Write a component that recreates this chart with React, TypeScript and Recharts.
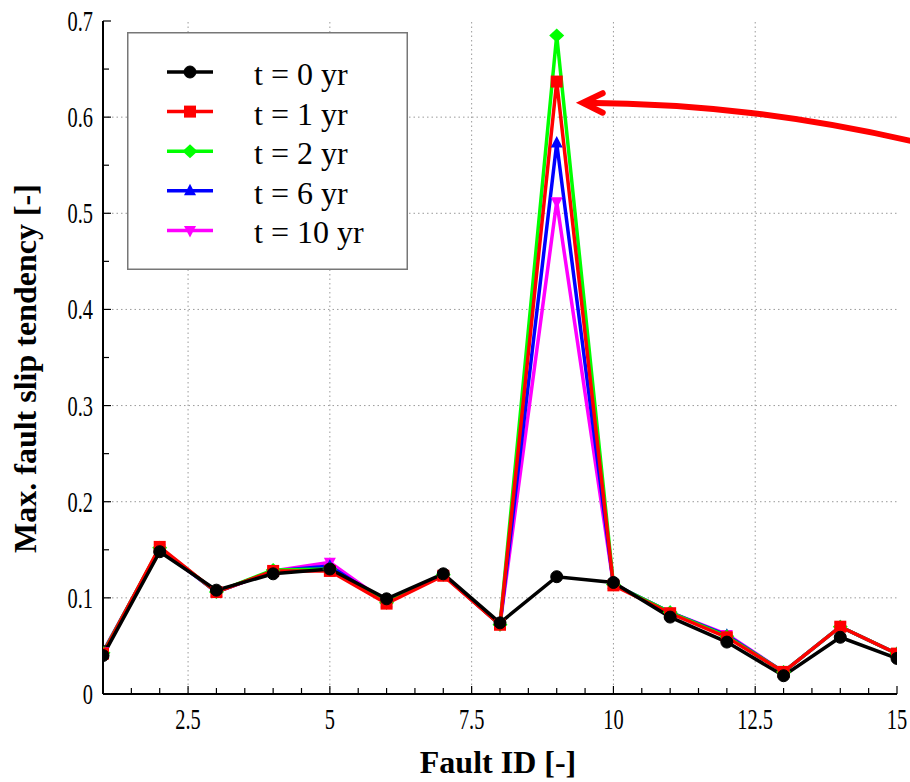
import React from 'react';
import { LineChart, Line, XAxis, YAxis, ReferenceLine, ReferenceDot, Legend, Label } from 'recharts';

// ---------- data ----------
const faultIds = [1, 2, 3, 4, 5, 6, 7, 8, 9, 10, 11, 12, 13, 14, 15];
const slipT0 = [0.040, 0.148, 0.108, 0.125, 0.130, 0.099, 0.125, 0.074, 0.122, 0.116, 0.080, 0.054, 0.019, 0.059, 0.037];
const slipT1 = [0.042, 0.153, 0.106, 0.128, 0.128, 0.094, 0.123, 0.072, 0.637, 0.113, 0.084, 0.059, 0.023, 0.070, 0.042];
const slipT2 = [0.043, 0.152, 0.106, 0.129, 0.130, 0.095, 0.124, 0.072, 0.685, 0.114, 0.085, 0.060, 0.023, 0.070, 0.042];
const slipT6 = [0.043, 0.151, 0.106, 0.128, 0.133, 0.095, 0.124, 0.072, 0.573, 0.114, 0.085, 0.061, 0.023, 0.070, 0.042];
const slipT10 = [0.044, 0.151, 0.106, 0.128, 0.137, 0.095, 0.124, 0.072, 0.512, 0.114, 0.085, 0.062, 0.023, 0.070, 0.042];

const xTicks = [1, 1.5, 2, 2.5, 3, 3.5, 4, 4.5, 5, 5.5, 6, 6.5, 7, 7.5, 8, 8.5, 9, 9.5, 10, 10.5, 11, 11.5, 12, 12.5, 13, 13.5, 14, 14.5, 15];
const xTickLabels = [2.5, 5, 7.5, 10, 12.5, 15];
const xGrid = [2.5, 5, 7.5, 10, 12.5];
const yTicks = [0, 0.05, 0.1, 0.15, 0.2, 0.25, 0.3, 0.35, 0.4, 0.45, 0.5, 0.55, 0.6, 0.65, 0.7];
const yTickLabels = [0, 0.1, 0.2, 0.3, 0.4, 0.5, 0.6, 0.7];
const yGrid = [0.1, 0.2, 0.3, 0.4, 0.5, 0.6];

const data = faultIds.map((id, i) => ({
  id,
  t0: slipT0[i],
  t1: slipT1[i],
  t2: slipT2[i],
  t6: slipT6[i],
  t10: slipT10[i],
}));

type Marker = 'circle' | 'square' | 'diamond' | 'triUp' | 'triDown';
const series: { key: string; name: string; color: string; marker: Marker }[] = [
  { key: 't0', name: 't = 0 yr', color: '#000000', marker: 'circle' },
  { key: 't1', name: 't = 1 yr', color: '#ff0000', marker: 'square' },
  { key: 't2', name: 't = 2 yr', color: '#00ff00', marker: 'diamond' },
  { key: 't6', name: 't = 6 yr', color: '#0000ff', marker: 'triUp' },
  { key: 't10', name: 't = 10 yr', color: '#ff00ff', marker: 'triDown' },
];
const drawOrder = ['t10', 't6', 't2', 't1', 't0'];

const SERIF = '"Liberation Serif", "Times New Roman", serif';

function markerShape(m: Marker, cx: number, cy: number, color: string, key?: any) {
  switch (m) {
    case 'circle':
      return <circle key={key} cx={cx} cy={cy} r={6} fill={color} stroke={color} />;
    case 'square':
      return <rect key={key} x={cx - 6} y={cy - 6} width={12} height={12} fill={color} />;
    case 'diamond':
      return <polygon key={key} points={`${cx},${cy - 7} ${cx + 7.5},${cy} ${cx},${cy + 7} ${cx - 7.5},${cy}`} fill={color} />;
    case 'triUp':
      return <polygon key={key} points={`${cx},${cy - 7} ${cx + 6},${cy + 4.5} ${cx - 6},${cy + 4.5}`} fill={color} />;
    case 'triDown':
      return <polygon key={key} points={`${cx},${cy + 7} ${cx + 6},${cy - 4.5} ${cx - 6},${cy - 4.5}`} fill={color} />;
  }
}

// ---------- axis ticks ----------
const BottomTick = (p: any) => {
  const { x, y, payload } = p;
  const v = payload.value;
  const major = xTickLabels.includes(v);
  return (
    <g>
      <line x1={x} y1={y} x2={x} y2={y - (major ? 8 : 6)} stroke="#000" strokeWidth={1.2} />
      {major && (
        <text transform={`translate(${x},${y + 35}) scale(0.68,1)`} textAnchor="middle" fontSize={30} fontFamily={SERIF} fill="#000">
          {String(v)}
        </text>
      )}
    </g>
  );
};
const TopTick = (p: any) => {
  const { x, y, payload } = p;
  const major = xTickLabels.includes(payload.value);
  return <line x1={x} y1={y} x2={x} y2={y + (major ? 8 : 6)} stroke="#000" strokeWidth={1.2} />;
};
const LeftTick = (p: any) => {
  const { x, y, payload } = p;
  const v = payload.value;
  const major = yTickLabels.includes(v);
  return (
    <g>
      <line x1={x} y1={y} x2={x + (major ? 8 : 6)} y2={y} stroke="#000" strokeWidth={1.2} />
      {major && (
        <text transform={`translate(${x - 10},${y + 10}) scale(0.68,1)`} textAnchor="end" fontSize={30} fontFamily={SERIF} fill="#000">
          {String(v)}
        </text>
      )}
    </g>
  );
};
const RightTick = (p: any) => {
  const { x, y, payload } = p;
  const major = yTickLabels.includes(payload.value);
  return <line x1={x} y1={y} x2={x - (major ? 8 : 6)} y2={y} stroke="#000" strokeWidth={1.2} />;
};

const XLabel = (p: any) => {
  const vb = p.viewBox;
  return (
    <text x={vb.x + vb.width / 2 - 2} y={vb.y + 79} textAnchor="middle" fontSize={32} fontWeight="bold" fontFamily={SERIF} fill="#000">
      Fault ID [-]
    </text>
  );
};
const YLabel = (p: any) => {
  const vb = p.viewBox;
  const cx = vb.x + 36;
  const cy = vb.y + vb.height / 2 + 11;
  return (
    <text x={cx} y={cy} transform={`rotate(-90, ${cx}, ${cy})`} textAnchor="middle" fontSize={32} fontWeight="bold" fontFamily={SERIF} fill="#000">
      Max. fault slip tendency [-]
    </text>
  );
};

const LegendBox = () => (
  <svg width={281} height={238} style={{ display: 'block' }}>
    <rect x={0.75} y={0.75} width={279.5} height={236.5} fill="#fff" stroke="#777" strokeWidth={1.5} />
    {series.map((s, i) => {
      const cy = 40 + i * 39.6;
      return (
        <g key={s.key}>
          <line x1={40} y1={cy} x2={86} y2={cy} stroke={s.color} strokeWidth={3.5} />
          {markerShape(s.marker, 63, cy, s.color)}
          <text x={127} y={cy + 13} fontSize={32} fontFamily={SERIF} fill="#000">
            {s.name}
          </text>
        </g>
      );
    })}
  </svg>
);

const ArrowShape = (p: any) => {
  const { cx, cy } = p;
  if (cx == null || cy == null) return <g />;
  const tx = cx + 26;
  const ty = cy;
  return (
    <g>
      <path
        d={`M ${tx + 2} ${ty} C ${cx + 143} ${cy + 1}, ${cx + 245} ${cy + 13}, ${cx + 362} ${cy + 40}`}
        fill="none"
        stroke="#ff0000"
        strokeWidth={6}
        strokeLinecap="round"
      />
      <path
        d={`M ${cx + 46} ${cy - 9.5} L ${tx} ${ty} L ${cx + 46} ${cy + 10}`}
        fill="none"
        stroke="#ff0000"
        strokeWidth={6}
        strokeLinecap="round"
        strokeLinejoin="miter"
      />
    </g>
  );
};

export default function App() {
  return (
    <div style={{ position: 'absolute', left: 0, top: 0, width: 910, height: 782, background: '#fff' }}>
      <LineChart width={910} height={782} data={data} margin={{ top: 21, right: 13, left: 0, bottom: 0 }}>
        <XAxis
          dataKey="id"
          type="number"
          domain={[1, 15]}
          ticks={xTicks}
          interval={0}
          allowDataOverflow
          height={88}
          tickSize={0}
          tickMargin={0}
          tickLine={false}
          tick={BottomTick}
          axisLine={{ stroke: '#000', strokeWidth: 2 }}
        >
          <Label content={XLabel} />
        </XAxis>
        <XAxis
          xAxisId="top"
          orientation="top"
          dataKey="id"
          type="number"
          domain={[1, 15]}
          ticks={xTicks}
          interval={0}
          allowDataOverflow
          height={0}
          tickSize={0}
          tickMargin={0}
          tickLine={false}
          tick={TopTick}
          axisLine={{ stroke: '#000', strokeWidth: 2 }}
        />
        <YAxis
          type="number"
          domain={[0, 0.7]}
          ticks={yTicks}
          interval={0}
          allowDataOverflow
          width={103}
          tickSize={0}
          tickMargin={0}
          tickLine={false}
          tick={LeftTick}
          axisLine={{ stroke: '#000', strokeWidth: 2 }}
        >
          <Label content={YLabel} />
        </YAxis>
        <YAxis
          yAxisId="right"
          orientation="right"
          type="number"
          domain={[0, 0.7]}
          ticks={yTicks}
          interval={0}
          allowDataOverflow
          width={0}
          tickSize={0}
          tickMargin={0}
          tickLine={false}
          tick={RightTick}
          axisLine={{ stroke: '#000', strokeWidth: 2 }}
        />
        {xGrid.map((v) => (
          <ReferenceLine key={'gx' + v} x={v} stroke="#9a9a9a" strokeWidth={1} strokeDasharray="1.5 3" />
        ))}
        {yGrid.map((v) => (
          <ReferenceLine key={'gy' + v} y={v} stroke="#9a9a9a" strokeWidth={1} strokeDasharray="1.5 3" />
        ))}
        {drawOrder.map((k) => {
          const s = series.find((q) => q.key === k)!;
          return (
            <Line
              key={s.key}
              dataKey={s.key}
              name={s.name}
              stroke={s.color}
              strokeWidth={3.5}
              isAnimationActive={false}
              dot={(dp: any) => markerShape(s.marker, dp.cx, dp.cy, s.color, `${s.key}-${dp.index}`) as any}
              activeDot={false}
            />
          );
        })}
        <ReferenceDot x={9} y={0.615} r={0} shape={ArrowShape} />
        <Legend
          layout="vertical"
          align="center"
          verticalAlign="middle"
          content={LegendBox}
          wrapperStyle={{ position: 'absolute', left: 127, top: 32, width: 281, height: 238 }}
        />
      </LineChart>
    </div>
  );
}
